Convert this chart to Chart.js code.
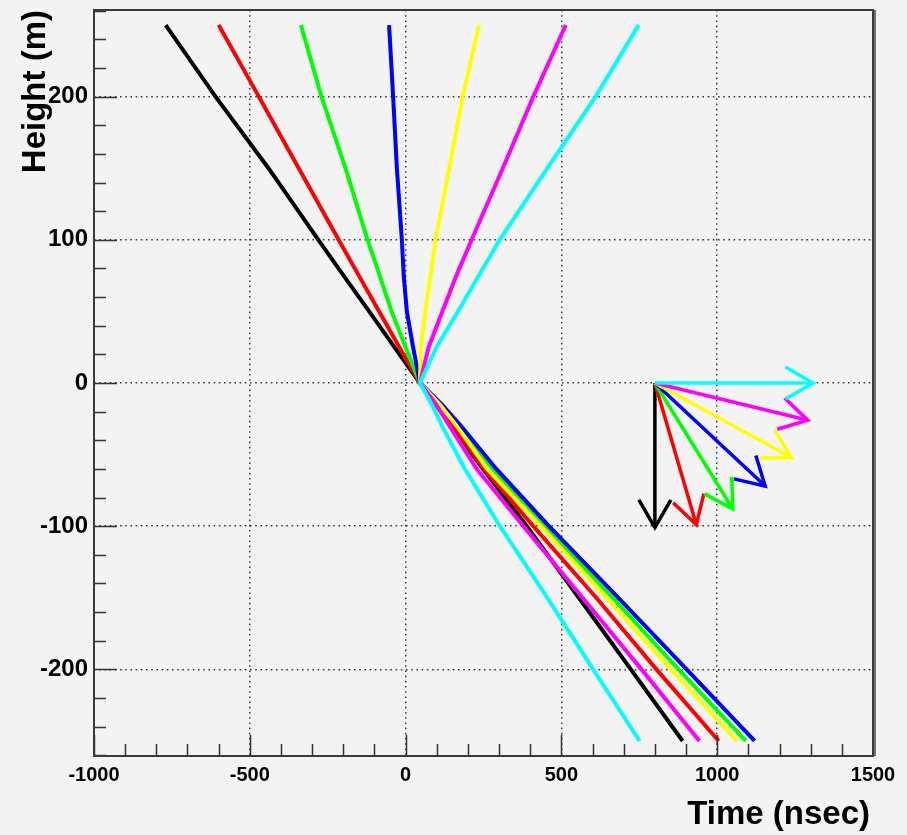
<!DOCTYPE html>
<html>
<head>
<meta charset="utf-8">
<title>Height vs Time</title>
<script src="https://cdn.jsdelivr.net/npm/chart.js@4.4.1/dist/chart.umd.min.js"></script>
<style>
    html, body { margin: 0; padding: 0; background: #f3f3f3; }
    #wrap { position: relative; width: 907px; height: 835px; }
</style>
</head>
<body>
<div id="wrap"><canvas id="myChart"></canvas></div>
<script>
// heights (m) at which each curve was read
var heights = [250, 200, 150, 100, 75, 50, 25, 0, -15, -30, -60, -100, -150, -200, -250];

// arrival time (nsec) at each height, one curve per angle
var timeBlack   = [-770, -610, -440, -280, -199, -117, -36, 46, 97, 147, 248, 389, 556, 723, 889];
var timeRed     = [-600, -471, -343, -215, -150, -85, -20, 46, 104, 155, 252, 410, 612, 805, 1005];
var timeGreen   = [-336, -270, -193, -122, -83, -45, 0, 46, 114, 171, 279, 447, 665, 876, 1092];
var timeBlue    = [-53, -40, -28, -12, -6, 4, 24, 46, 116, 178, 291, 460, 683, 902, 1120];
var timeYellow  = [236, 183, 140, 96, 80, 63, 49, 46, 110, 164, 262, 434, 645, 852, 1064];
var timeMagenta = [514, 410, 312, 212, 163, 118, 74, 46, 98, 141, 228, 378, 568, 757, 943];
var timeCyan    = [748, 610, 455, 302, 235, 168, 99, 46, 84, 117, 190, 303, 455, 602, 751];

var seriesNames  = ['0 deg', '15 deg', '30 deg', '45 deg', '60 deg', '75 deg', '90 deg'];
var seriesTimes  = [timeBlack, timeRed, timeGreen, timeBlue, timeYellow, timeMagenta, timeCyan];
var seriesColors = ['#000000', '#ff0000', '#00ff00', '#0000ff', '#ffff00', '#ff00ff', '#00ffff'];

// direction arrows, all starting from one base point
var arrowBaseTime   = 800;
var arrowBaseHeight = 0;
var arrowTipTime    = [800, 933, 1050, 1154, 1238, 1291, 1308];
var arrowTipHeight  = [-101, -99, -88, -72, -52, -26, 0];

var xTicks = [-1000, -500, 0, 500, 1000, 1500];
var yTicks = [-200, -100, 0, 100, 200];
var xMinorStep = 100;
var yMinorStep = 20;

var datasets = seriesTimes.map(function (times, i) {
    return {
        label: seriesNames[i],
        data: heights.map(function (h, j) { return { x: times[j], y: h }; }),
        showLine: true,
        borderColor: seriesColors[i],
        backgroundColor: seriesColors[i],
        borderWidth: 4,
        pointRadius: 0,
        tension: 0,
        fill: false,
        order: seriesTimes.length - i   // black underneath, cyan on top
    };
});

// ROOT-like frame: inward ticks, arrows, axis titles
var rootLook = {
    id: 'rootLook',
    afterDatasetsDraw: function (chart) {
        var ctx = chart.ctx;
        var xs = chart.scales.x, ys = chart.scales.y;
        var x0 = xs.getPixelForValue(arrowBaseTime);
        var y0 = ys.getPixelForValue(arrowBaseHeight);
        ctx.save();
        ctx.lineWidth = 3.5;
        ctx.lineJoin = 'miter';
        for (var i = 0; i < arrowTipTime.length; i++) {
            var x1 = xs.getPixelForValue(arrowTipTime[i]);
            var y1 = ys.getPixelForValue(arrowTipHeight[i]);
            var ang = Math.atan2(y1 - y0, x1 - x0);
            var head = 32, spread = Math.PI / 6;
            ctx.strokeStyle = seriesColors[i];
            ctx.beginPath();
            ctx.moveTo(x0, y0);
            ctx.lineTo(x1, y1);
            ctx.stroke();
            ctx.beginPath();
            ctx.moveTo(x1 - head * Math.cos(ang - spread), y1 - head * Math.sin(ang - spread));
            ctx.lineTo(x1, y1);
            ctx.lineTo(x1 - head * Math.cos(ang + spread), y1 - head * Math.sin(ang + spread));
            ctx.stroke();
        }
        ctx.restore();
    },
    afterDraw: function (chart) {
        var ctx = chart.ctx, area = chart.chartArea;
        var xs = chart.scales.x, ys = chart.scales.y;
        ctx.save();
        ctx.strokeStyle = '#333333';
        ctx.lineWidth = 1.5;
        ctx.beginPath();
        var v, p;
        for (v = Math.ceil(xs.min / xMinorStep) * xMinorStep; v <= xs.max; v += xMinorStep) {
            p = Math.round(xs.getPixelForValue(v)) + 0.5;
            var lx = xTicks.indexOf(v) >= 0 ? 21 : 12;
            ctx.moveTo(p, area.bottom);
            ctx.lineTo(p, area.bottom - lx);
        }
        for (v = Math.ceil(ys.min / yMinorStep) * yMinorStep; v <= ys.max; v += yMinorStep) {
            p = Math.round(ys.getPixelForValue(v)) + 0.5;
            var ly = yTicks.indexOf(v) >= 0 ? 23 : 12;
            ctx.moveTo(area.left, p);
            ctx.lineTo(area.left + ly, p);
        }
        ctx.stroke();

        // frame, with the slightly heavier right edge
        ctx.lineWidth = 2;
        ctx.strokeStyle = '#3a3a3a';
        ctx.strokeRect(area.left, area.top, area.right - area.left, area.bottom - area.top);
        ctx.strokeStyle = '#707070';
        ctx.beginPath();
        ctx.moveTo(area.right + 2, area.top);
        ctx.lineTo(area.right + 2, area.bottom);
        ctx.stroke();

        // axis titles
        ctx.fillStyle = '#000000';
        ctx.font = 'bold 33px "Liberation Sans", Arial, sans-serif';
        ctx.textAlign = 'right';
        ctx.textBaseline = 'alphabetic';
        ctx.fillText('Time (nsec)', area.right - 3, 824);
        ctx.translate(45, area.top);
        ctx.rotate(-Math.PI / 2);
        ctx.fillText('Height (m)', 0, 0);
        ctx.restore();
    }
};

var plainLabel = function (value) { return String(value); };

var config = {
    type: 'scatter',
    data: { datasets: datasets },
    options: {
        responsive: true,
        maintainAspectRatio: false,
        animation: false,
        events: [],
        layout: { padding: { left: 0, right: 34, top: 10, bottom: 0 } },
        plugins: {
            legend: { display: false },
            tooltip: { enabled: false }
        },
        scales: {
            x: {
                type: 'linear',
                min: -1000,
                max: 1500,
                afterBuildTicks: function (scale) {
                    scale.ticks = xTicks.map(function (t) { return { value: t }; });
                },
                afterFit: function (scale) {
                    scale.height = 79;
                    scale.paddingLeft = 0;
                    scale.paddingRight = 0;
                },
                grid: {
                    color: '#3c3c3c',
                    lineWidth: 1.5,
                    drawTicks: false
                },
                border: { display: false, dash: [1.6, 3.6] },
                ticks: {
                    color: '#000000',
                    padding: 7,
                    maxRotation: 0,
                    callback: plainLabel,
                    font: { family: '"Liberation Sans", Arial, sans-serif', size: 20, weight: 'bold' }
                }
            },
            y: {
                type: 'linear',
                min: -260.5,
                max: 260.5,
                afterBuildTicks: function (scale) {
                    scale.ticks = yTicks.map(function (t) { return { value: t }; });
                },
                afterFit: function (scale) {
                    scale.width = 94;
                    scale.paddingTop = 0;
                    scale.paddingBottom = 0;
                },
                grid: {
                    color: '#3c3c3c',
                    lineWidth: 1.5,
                    drawTicks: false
                },
                border: { display: false, dash: [1.6, 3.6] },
                ticks: {
                    color: '#000000',
                    padding: 6,
                    callback: plainLabel,
                    font: { family: '"Liberation Sans", Arial, sans-serif', size: 24, weight: 'bold' }
                }
            }
        }
    },
    plugins: [rootLook]
};

var myChart = new Chart(document.getElementById('myChart'), config);
</script>
</body>
</html>
